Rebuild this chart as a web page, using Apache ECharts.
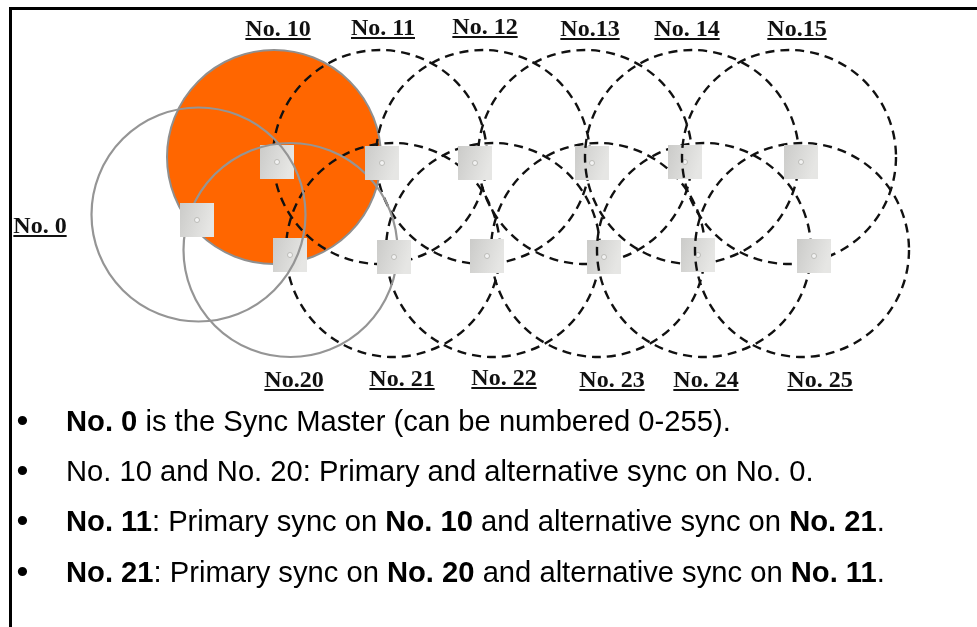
<!DOCTYPE html>
<html><head><meta charset="utf-8">
<style>html,body{margin:0;padding:0;background:#fff}#c{width:977px;height:627px}</style>
<script src="https://cdn.jsdelivr.net/npm/echarts@6/dist/echarts.min.js"></script>
</head><body><div id="c"></div>
<script>
// Nodes: name, coverage circle centre, radius, unit square centre
const nodeNames = ['No. 0','No. 10','No. 11','No. 12','No. 13','No. 14','No. 15','No. 20','No. 21','No. 22','No. 23','No. 24','No. 25'];
const circleX   = [198.5, 274, 380, 483, 585, 692, 789, 290.5, 393, 493, 598, 704, 802];
const circleY   = [214.5, 157, 157, 157, 157, 157, 157, 250, 250, 250, 250, 250, 250];
const circleR   = [107, 107, 107, 107, 107, 107, 107, 107, 107, 107, 107, 107, 107];
const squareX   = [197, 277, 382, 475, 592, 685, 801, 290, 394, 487, 604, 698, 814];
const squareY   = [220, 162, 163, 163, 163, 162, 162, 255, 257, 256, 257, 255, 256];
// Caption labels
const labelTexts = ['No. 0','No. 10','No. 11','No. 12','No.13','No. 14','No.15','No.20','No. 21','No. 22','No. 23','No. 24','No. 25'];
const labelX     = [40, 278, 383, 485, 590, 687, 797, 294, 402, 504, 612, 706, 820];
const labelY     = [233, 36, 35, 34, 36, 36, 36, 387, 386, 385, 387, 387, 387];
// Bullet lines
const noteLines = [
  '{b|No. 0} is the Sync Master (can be numbered 0-255).',
  'No. 10 and No. 20: Primary and alternative sync on No. 0.',
  '{b|No. 11}: Primary sync on {b|No. 10} and alternative sync on {b|No. 21}.',
  '{b|No. 21}: Primary sync on {b|No. 20} and alternative sync on {b|No. 11}.'
];
const noteY = [423, 473, 523, 574];

const idx = n => nodeNames.indexOf(n);
const serif = '"Liberation Serif"', sans = '"Liberation Sans"';
const mctx = document.createElement('canvas').getContext('2d');

function circleSeries(names, z, style) {
  return {
    type: 'custom', coordinateSystem: 'cartesian2d', z, silent: true, clip: false,
    data: names.map(n => [circleX[idx(n)], circleY[idx(n)], circleR[idx(n)]]),
    renderItem: (p, api) => {
      const c = api.coord([api.value(0), api.value(1)]);
      const r = api.size([api.value(2), 0])[0];
      return { type: 'circle', shape: { cx: c[0], cy: c[1], r }, style };
    }
  };
}
function squareSeries(names, z) {
  return {
    type: 'custom', coordinateSystem: 'cartesian2d', z, silent: true, clip: false,
    data: names.map(n => [squareX[idx(n)], squareY[idx(n)]]),
    renderItem: (p, api) => {
      const c = api.coord([api.value(0), api.value(1)]);
      const s = 34;
      return { type: 'group', children: [
        { type: 'rect', shape: { x: c[0] - s/2, y: c[1] - s/2, width: s, height: s },
          style: { fill: new echarts.graphic.LinearGradient(0, 0, 1, 0.3, [
            { offset: 0, color: '#cbcbc9' }, { offset: 1, color: '#e6e6e4' }]) } },
        { type: 'circle', shape: { cx: c[0], cy: c[1], r: 2.5 }, style: { fill: '#f2f2f2', stroke: '#bcbcb8', lineWidth: 1 } }
      ]};
    }
  };
}
const dashed = { fill: 'none', stroke: '#111', lineWidth: 2.4, lineDash: [9, 6] };
const grey = { fill: 'none', stroke: '#959595', lineWidth: 2.2 };
const font = 'bold 24px ' + serif;
const labelSeries = {
  type: 'custom', coordinateSystem: 'cartesian2d', z: 20, silent: true, clip: false,
  data: labelTexts.map((t, i) => [labelX[i], labelY[i], t]),
  renderItem: (p, api) => {
    const c = api.coord([api.value(0), api.value(1)]);
    const t = labelTexts[p.dataIndex];
    mctx.font = font;
    const w = mctx.measureText(t).width;
    return { type: 'group', children: [
      { type: 'text', style: { x: c[0], y: c[1] + 5.5, text: t, font, fill: '#111', align: 'center', verticalAlign: 'bottom' } },
      { type: 'line', shape: { x1: c[0] - w/2, y1: c[1] + 3, x2: c[0] + w/2, y2: c[1] + 3 }, style: { stroke: '#111', lineWidth: 2 } }
    ]};
  }
};

const graphics = [
  { type: 'rect', shape: { x: 9, y: 7, width: 968, height: 3 }, style: { fill: '#000' } },
  { type: 'rect', shape: { x: 9, y: 7, width: 3, height: 620 }, style: { fill: '#000' } }
];
noteLines.forEach((t, i) => {
  graphics.push({ type: 'text', x: 16.5, y: noteY[i], style: { text: '\u2022', font: '34px ' + sans, fill: '#000', verticalAlign: 'middle' } });
  graphics.push({ type: 'text', x: 66, y: noteY[i], style: {
    text: t, font: '29.18px ' + sans, fill: '#000', verticalAlign: 'middle',
    rich: { b: { font: 'bold 29.18px ' + sans, fill: '#000' } } } });
});

const chart = echarts.init(document.getElementById('c'), null, { renderer: 'canvas' });
chart.setOption({
  animation: false, backgroundColor: '#fff',
  grid: { left: 0, right: 0, top: 0, bottom: 0 },
  xAxis: { type: 'value', min: 0, max: 977, show: false },
  yAxis: { type: 'value', min: 0, max: 627, inverse: true, show: false },
  graphic: graphics,
  series: [
    circleSeries(['No. 10'], 1, { fill: '#ff6600', stroke: '#8f8f8f', lineWidth: 2 }),
    circleSeries(['No. 11','No. 12','No. 13','No. 21','No. 22','No. 23'], 2, dashed),
    squareSeries(['No. 10','No. 20','No. 13','No. 23'], 3),
    circleSeries(['No. 14','No. 24'], 4, dashed),
    squareSeries(['No. 14','No. 24'], 5),
    circleSeries(['No. 15','No. 25'], 6, dashed),
    circleSeries(['No. 0','No. 20'], 7, grey),
    squareSeries(['No. 0','No. 11','No. 21','No. 12','No. 22','No. 15','No. 25'], 8),
    labelSeries
  ]
});
</script></body></html>
